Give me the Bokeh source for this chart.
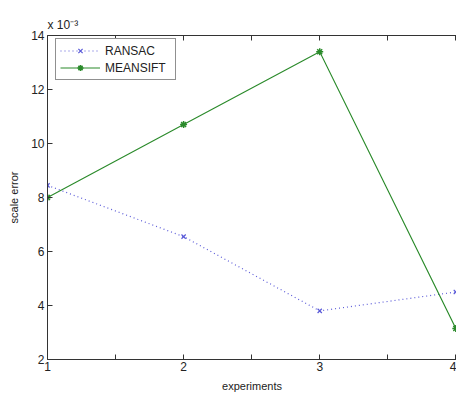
from bokeh.plotting import figure
from bokeh.models import (Range1d, FixedTicker, LinearAxis, Legend, LegendItem,
                          CustomJSTickFormatter)
from bokeh.embed import file_html
from bokeh.resources import INLINE

experiments = [1, 2, 3, 4]
ransac = [8.45, 6.55, 3.8, 4.5]
meanshift = [8.0, 10.7, 13.4, 3.15]
x_ticks = [1, 2, 3, 4]
x_minor = [1.5, 2.5, 3.5]
y_ticks = [2, 4, 6, 8, 10, 12, 14]

FONT = "Liberation Sans"
AX = "#333333"
FRAME_H = 325
LEGEND_H = 40

p = figure(width=456, height=394, x_range=Range1d(1, 4.005), y_range=Range1d(2, 14),
           output_backend="svg", toolbar_location=None,
           min_border_left=47, min_border_top=35, min_border_bottom=34, min_border_right=0)
p.grid.visible = False
p.outline_line_color = None
p.background_fill_color = "white"
p.border_fill_color = "white"

p.title.text = "x 10\u207b\u00b3"
p.title.align = "left"
p.title.offset = 0
p.title.standoff = 7
p.title.text_font = FONT
p.title.text_font_size = "12px"
p.title.text_font_style = "normal"
p.title.text_color = "#222222"

xa = p.xaxis[0]
xa.ticker = FixedTicker(ticks=x_ticks, minor_ticks=x_minor)
ya = p.yaxis[0]
ya.ticker = FixedTicker(ticks=y_ticks)
for ax in (xa, ya):
    ax.axis_line_color = AX
    ax.major_tick_in = 5
    ax.major_tick_out = 0
    ax.minor_tick_in = 5
    ax.minor_tick_out = 0
    ax.major_tick_line_color = AX
    ax.minor_tick_line_color = AX
    ax.major_label_text_font = FONT
    ax.major_label_text_font_size = "12px"
    ax.major_label_text_color = "#222222"
    ax.axis_label_text_font = FONT
    ax.axis_label_text_font_size = "11px"
    ax.axis_label_text_font_style = "normal"
    ax.axis_label_text_color = "#222222"
ya.minor_tick_line_color = None
xa.axis_label = "experiments"
ya.axis_label = "scale error"
xa.major_label_standoff = 2
ya.major_label_standoff = 3
xa.axis_label_standoff = 6
ya.axis_label_standoff = 8

top = LinearAxis(ticker=FixedTicker(ticks=x_ticks, minor_ticks=x_minor),
                 formatter=CustomJSTickFormatter(code="return ''"))
top.axis_line_color = AX
top.major_tick_in = 5
top.major_tick_out = 0
top.minor_tick_in = 5
top.minor_tick_out = 0
top.major_tick_line_color = AX
top.minor_tick_line_color = AX
top.major_label_text_font_size = "0px"
top.major_label_standoff = 0
p.add_layout(top, "above")

blue = "#5a5ad8"
green = "#2a8a2a"
r1 = p.line(experiments, ransac, line_color=blue, line_dash="1 3", line_width=1.2)
r1m = p.scatter(experiments, ransac, marker="x", size=6, line_color=blue, line_width=1.2)
r2 = p.line(experiments, meanshift, line_color=green, line_width=1.1)
r2m = p.scatter(experiments, meanshift, marker="asterisk", size=7, line_color=green, line_width=1.5)

legend = Legend(items=[LegendItem(label="RANSAC", renderers=[r1, r1m]),
                       LegendItem(label="MEANSIFT", renderers=[r2, r2m])],
                location=(8, FRAME_H - 6 - LEGEND_H), margin=0, padding=4, spacing=2,
                glyph_width=40, glyph_height=15, label_height=15, label_width=66,
                label_standoff=5,
                label_text_font=FONT, label_text_font_size="12px", label_text_color="#222222",
                border_line_color="#222222", border_line_width=1,
                background_fill_color="white", background_fill_alpha=1)
p.add_layout(legend)

open("out.html", "w").write(file_html(p, INLINE))
